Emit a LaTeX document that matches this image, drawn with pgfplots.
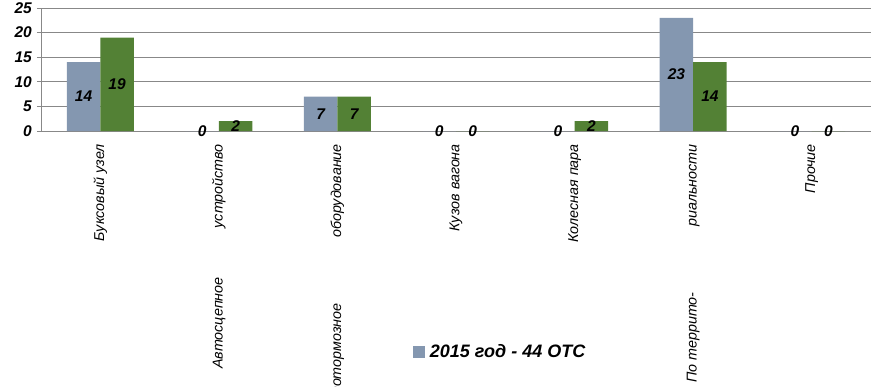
\documentclass[border=0pt]{standalone}
\usepackage{pgfplots}
\pgfplotsset{compat=1.18}
\usepackage{pgfplotstable}
\usepackage{fontspec}
\setmainfont{Liberation Sans}
\definecolor{barblue}{RGB}{132,151,176}
\definecolor{bargreen}{RGB}{83,129,53}
\definecolor{gridgrey}{RGB}{136,136,136}
\pgfplotstableread{
x a b
0 14 19
1 0 2
2 7 7
3 0 0
4 0 2
5 23 14
6 0 0
}\data
\begin{document}
\begin{tikzpicture}
\useasboundingbox (0,0) rectangle (888pt,386pt);
\clip (0,0) rectangle (888pt,386pt);
\begin{axis}[
  at={(41pt,255pt)}, anchor=south west,
  scale only axis, width=830pt, height=123pt,
  ybar,
  xmin=-0.5, xmax=6.5, ymin=0, ymax=25,
  axis x line*=bottom, axis y line*=left,
  axis line style={gridgrey, line width=0.8pt},
  ytick={0,5,...,25},
  ymajorgrids, grid style={gridgrey, line width=0.8pt},
  xtick={0,...,6},
  xticklabels={Буксовый узел, Автосцепное\hspace{49pt}устройство, Автотормозное\hspace{66pt}оборудование, Кузов вагона, Колесная пара, По террито-\hspace{66pt}риальности, Прочие},
  extra x ticks={-0.5,0.5,...,6.5},
  extra x tick labels={},
  extra x tick style={major tick length=5pt, tick style={gridgrey, line width=0.8pt}, grid=none},
  x tick style={draw=none},
  y tick style={gridgrey, line width=0.8pt},
  tick align=outside, major tick length=4pt,
  xticklabel style={rotate=90, anchor=east, inner sep=0pt, font=\fontsize{14.3}{16}\selectfont\itshape},
  xticklabel shift=9pt,
  yticklabel style={font=\fontsize{15.5}{18}\selectfont\bfseries\itshape, inner sep=0pt},
  yticklabel shift=5pt,
  /pgf/number format/assume math mode=true,
  bar width=33.5pt,
  nodes near coords,
  visualization depends on={y \as \rawy},
  every node near coord/.append style={font=\fontsize{15.5}{18}\selectfont\bfseries\itshape, anchor=center, black, shift={(axis direction cs:0,-\rawy/2)}},
  legend style={at={(0.555,-1.797)}, anchor=center, draw=none, fill=none, font=\fontsize{18}{21}\selectfont\bfseries\itshape, inner sep=0pt, nodes={inner xsep=5pt, inner ysep=0pt}},
  legend image code/.code={\fill[barblue] (0pt,-6pt) rectangle (12pt,6pt);},
]
\addplot[bar shift=-16.75pt, fill=barblue, draw=none] table[x=x, y=a] {\data};
\addlegendentry{2015 год - 44 ОТС}
\addplot[bar shift=16.75pt, fill=bargreen, draw=none] table[x=x, y=b] {\data};
\end{axis}
\end{tikzpicture}
\end{document}
